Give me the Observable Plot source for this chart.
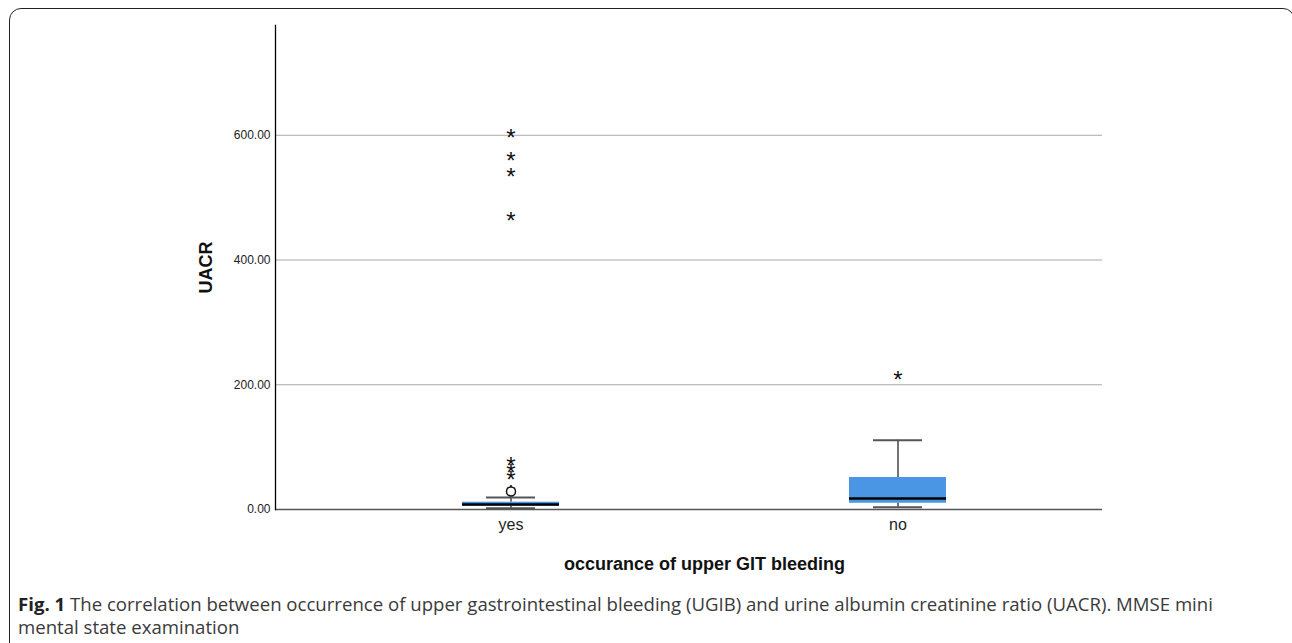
<!DOCTYPE html>
<html><head><meta charset="utf-8">
<script src="https://cdn.jsdelivr.net/npm/d3@7"></script>
<script src="https://cdn.jsdelivr.net/npm/@observablehq/plot@0.6"></script>
<style>
body{margin:0;background:#fff;width:1292px;height:643px;overflow:hidden;position:relative;font-family:"Liberation Sans",Arial,sans-serif}
#frame{position:absolute;left:9px;top:8px;width:1286px;height:700px;border:1.6px solid #222;border-radius:12px;box-sizing:border-box}
#chart{position:absolute;left:0;top:0}
#caption{position:absolute;left:18px;top:592px;width:1215px;font-family:"Open Sans",sans-serif;font-size:18.6px;line-height:23px;color:#3a3a3a}
#caption b{color:#222}
</style></head>
<body>
<div id="frame"></div>
<div id="chart"></div>
<div id="caption"><b>Fig. 1</b> The correlation between occurrence of upper gastrointestinal bleeding (UGIB) and urine albumin creatinine ratio (UACR). MMSE mini mental state examination</div>
<script>
const groups = ["yes", "no"];
const lowWhisker = [2.1, 3.7];
const q1 = [5.3, 10];
const median = [8, 17.6];
const q3 = [11.7, 51.3];
const highWhisker = [19.3, 111];
const outlierGroups = ["yes", "yes", "yes", "yes", "yes", "yes", "yes", "yes", "yes", "no"];
const outlierValues = [605, 568, 542, 472, 78.6, 67.4, 56.2, 33.7, 28.9, 216.6];
const outlierKinds = ["star", "star", "star", "star", "star", "star", "star", "star", "circle", "star"];
const yTicks = [0, 200, 400, 600];
const yLabel = "UACR";
const xLabel = "occurance of upper GIT bleeding";

const boxes = groups.map((g, i) => ({group: g, lo: lowWhisker[i], q1: q1[i], med: median[i], q3: q3[i], hi: highWhisker[i]}));
const outliers = outlierValues.map((v, i) => ({group: outlierGroups[i], value: v, kind: outlierKinds[i]}));
const stars = outliers.filter(d => d.kind === "star");
const circles = outliers.filter(d => d.kind === "circle");

const chart = Plot.plot({
  width: 1292, height: 580,
  marginLeft: 275, marginRight: 190, marginTop: 25, marginBottom: 71,
  style: {fontFamily: "Liberation Sans, Arial, sans-serif", background: "transparent", overflow: "visible"},
  x: {type: "band", domain: groups, range: [317.5, 1091.5], paddingInner: 0.749, paddingOuter: 0.3745},
  y: {domain: [0, 776]},
  marks: [
    Plot.gridY(yTicks, {stroke: "#a8a8a8", strokeOpacity: 1, strokeWidth: 1}),
    Plot.axisY({ticks: yTicks, tickSize: 0, tickPadding: 5, tickFormat: d3.format(".2f"), fontSize: 12, label: null, fill: "#222"}),
    Plot.axisX({tickSize: 0, tickPadding: 9, fontSize: 16, label: null, fill: "#222"}),
    Plot.ruleX(boxes, {x: "group", y1: "q3", y2: "hi", stroke: "#444", strokeWidth: 1.5}),
    Plot.ruleX(boxes, {x: "group", y1: "lo", y2: "q1", stroke: "#444", strokeWidth: 1.5}),
    Plot.tickY(boxes, {x: "group", y: "hi", insetLeft: 24, insetRight: 24, stroke: "#555", strokeWidth: 2}),
    Plot.tickY(boxes, {x: "group", y: "lo", insetLeft: 24, insetRight: 24, stroke: "#555", strokeWidth: 2}),
    Plot.barY(boxes, {x: "group", y1: "q1", y2: "q3", fill: "#4a96e4"}),
    Plot.tickY(boxes, {x: "group", y: "med", stroke: "#000", strokeWidth: 2.5}),
    Plot.ruleY([0], {stroke: "#555", strokeWidth: 1.5}),
    Plot.frame({anchor: "left", stroke: "#000", strokeWidth: 1.3}),
    Plot.text(stars, {x: "group", y: "value", text: () => "*", fontSize: 24, dy: 6, fill: "#111"}),
    Plot.dot(circles, {x: "group", y: "value", r: 4.5, stroke: "#111", fill: "white", strokeWidth: 1.5}),
    Plot.text([yLabel], {frameAnchor: "left", textAnchor: "middle", lineAnchor: "middle", dx: -69, rotate: -90, fontWeight: "bold", fontSize: 18, fill: "#111"}),
    Plot.text([xLabel], {frameAnchor: "bottom", textAnchor: "middle", lineAnchor: "middle", dx: 15.5, dy: 55, fontWeight: "bold", fontSize: 18, fill: "#111"})
  ]
});
document.getElementById("chart").appendChild(chart);
</script>
</body></html>
